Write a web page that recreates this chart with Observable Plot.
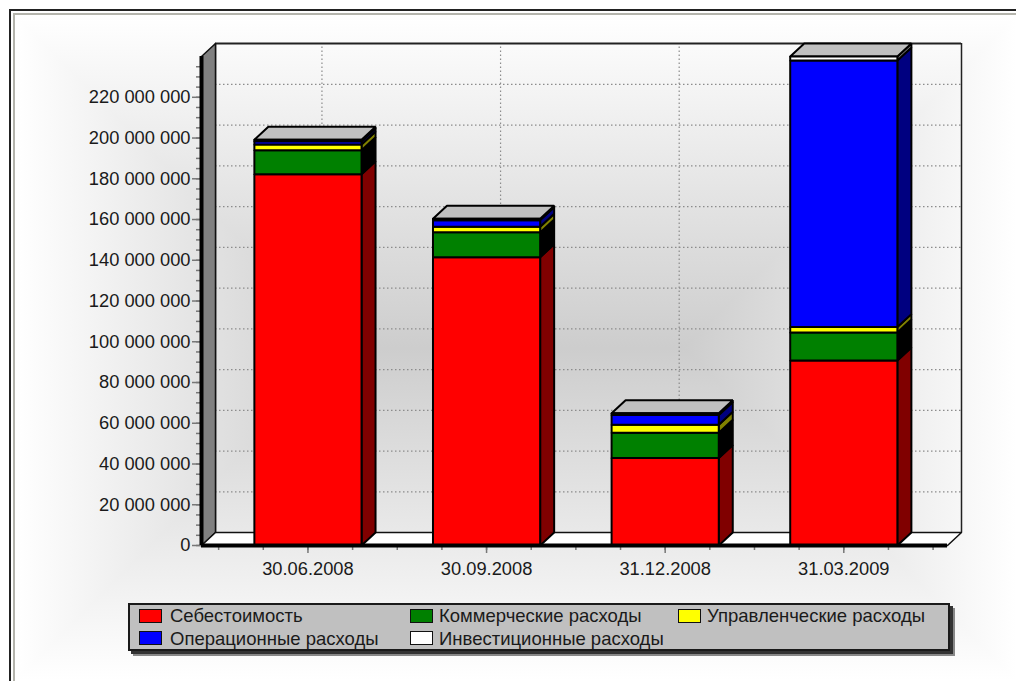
<!DOCTYPE html>
<html><head><meta charset="utf-8">
<script src="https://cdn.jsdelivr.net/npm/d3@7"></script>
<script src="https://cdn.jsdelivr.net/npm/@observablehq/plot@0.6"></script>
<style>
html,body{margin:0;padding:0;background:#fff;overflow:hidden}
#stage{position:relative;width:1016px;height:681px;overflow:hidden;font-family:"Liberation Sans",Arial,sans-serif;color:#111}
#frame{position:absolute;left:9px;top:9px;width:1040px;height:720px;border:2px solid #222;box-sizing:border-box;background:#fff}
#frame2{position:absolute;left:13px;top:13px;width:1040px;height:720px;border:2px solid #b4b4ac;box-sizing:border-box}
#bg{position:absolute;left:0;top:0}
#plot{position:absolute;left:0;top:0}
#legend{position:absolute;left:128px;top:603px;width:822px;height:48px;box-sizing:border-box;background:#c0c0c0;border:2px solid #1a1a1a;box-shadow:3px 3px 0 #333,5px 5px 0 #888}
.item{position:absolute;font-size:18.5px;line-height:20px;white-space:nowrap;color:#1a1a1a}
.sw{position:absolute;width:23px;height:14px;box-sizing:border-box;border:1.5px solid #111}
</style></head><body>
<div id="stage">
<div id="frame"></div>
<svg id="bg" width="1016" height="681"></svg>
<div id="frame2"></div>
<div id="plot"></div>
<div id="legend"></div>
</div>
<script>
const dates = ["30.06.2008","30.09.2008","31.12.2008","31.03.2009"];
const names = ["Себестоимость","Коммерческие расходы","Управленческие расходы","Операционные расходы","Инвестиционные расходы"];
const costOfSales = [182.2,141.5,43.0,90.8];
const commercial  = [11.8,12.2,12.3,13.8];
const management  = [2.8,2.8,4.0,2.6];
const operating   = [1.6,3.2,4.8,130.9];
const investment  = [0.8,0.7,0.8,1.9];
const series = [costOfSales,commercial,management,operating,investment];
const faceColors = ["#ff0000","#008000","#ffff00","#0000ff","#ffffff"];
const sideColors = ["#800000","#000000","#808000","#000080","#808080"];
const majorTicks = d3.range(0,221,20);
const minorTicks = d3.range(0,236,5);
const quarterTicks = d3.range(-0.5,3.51,0.25);
const gridY = d3.range(20,221,20);
const halfBar = 0.3, depthX = 14/178.6, depthY = 6.37, topWall = 240;

const xDom=[-0.596,3.659], yDom=[0,246.4];
const walls=[], bars=[];
const poly=(arr,id,fill,pts)=>pts.concat([pts[0]]).forEach(([x,y])=>arr.push({id,fill,x,y}));
const [x0,x1]=[xDom[0],xDom[0]+depthX];
poly(walls,"left","#808080",[[x0,0],[x1,depthY],[x1,topWall+depthY],[x0,topWall]]);
poly(walls,"floor","#ffffff",[[x0,0],[x1,depthY],[xDom[1],depthY],[xDom[1]-depthX,0]]);
dates.forEach((d,i)=>{
  const L=i-halfBar,R=i+halfBar; let b=0;
  series.forEach((s,k)=>{
    const t=b+s[i];
    poly(bars,`s${i}-${k}`,sideColors[k],[[R,b],[R+depthX,b+depthY],[R+depthX,t+depthY],[R,t]]);
    b=t;
  });
  poly(bars,`t${i}`,"#c0c0c0",[[L,b],[R,b],[R+depthX,b+depthY],[L+depthX,b+depthY]]);
  b=0;
  series.forEach((s,k)=>{
    const t=b+s[i];
    poly(bars,`f${i}-${k}`,faceColors[k],[[L,b],[R,b],[R,t],[L,t]]);
    b=t;
  });
});
const fmt=v=>d3.format(",")(v*1e6).replace(/,/g," ");
const chart=Plot.plot({
  width:1016,height:681,marginLeft:201,marginRight:55,marginTop:43,marginBottom:136,
  style:{background:"transparent",fontFamily:'"Liberation Sans",Arial,sans-serif',color:"#1a1a1a"},
  x:{domain:xDom,axis:null},y:{domain:yDom,axis:null},
  marks:[
    Plot.ruleY(gridY,{y:d=>d+depthY,x1:x1,x2:xDom[1],stroke:"#8c8c8c",strokeDasharray:"1.5,2.5",strokeWidth:1.2}),
    Plot.ruleX([0,1,2,3],{x:d=>d+depthX,y1:depthY,y2:topWall+depthY,stroke:"#8c8c8c",strokeDasharray:"1.5,2.5",strokeWidth:1.2}),
    Plot.ruleX([x1,xDom[1]],{y1:depthY,y2:topWall+depthY,stroke:"#222",strokeWidth:1.5}),
    Plot.ruleY([topWall+depthY],{x1:x1,x2:xDom[1],stroke:"#222",strokeWidth:2}),
    Plot.line(walls,{x:"x",y:"y",z:"id",fill:"fill",stroke:"#111",strokeWidth:1.5}),
    Plot.line(bars,{x:"x",y:"y",z:"id",fill:"fill",stroke:"#000",strokeWidth:2,strokeLinejoin:"miter"}),
    Plot.axisY({ticks:minorTicks,tickSize:5,tickFormat:()=>"",stroke:"#777",strokeWidth:1.5,label:null}),
    Plot.axisY({ticks:majorTicks,tickSize:9,tickPadding:2,tickFormat:fmt,stroke:"#777",strokeWidth:1.5,fontSize:18.3,label:null}),
    Plot.axisX({ticks:quarterTicks,tickSize:5,tickFormat:()=>"",anchor:"bottom",stroke:"#777",strokeWidth:1.5,label:null}),
    Plot.axisX({ticks:[0,1,2,3],tickSize:8,tickPadding:8,tickFormat:i=>dates[i],anchor:"bottom",stroke:"#777",strokeWidth:1.5,fontSize:18.3,label:null}),
    Plot.ruleX([x0],{y1:0,y2:topWall,stroke:"#000",strokeWidth:4}),
    Plot.ruleY([0],{x1:x0,x2:xDom[1]-depthX,stroke:"#000",strokeWidth:4})
  ]
});
document.getElementById("plot").append(chart);

// rectangular path gradient behind the chart
const svg=d3.select("#bg"), L=16,T=16,R=1016,B=680,CY=(T+B)/2,H=(B-T)/2;
const defs=svg.append("defs");
[["gt",0,0,0,1,[[L,T],[R,T],[R-H,CY],[L+H,CY]]],["gb",0,1,0,0,[[L,B],[R,B],[R-H,CY],[L+H,CY]]],
 ["gl",0,0,1,0,[[L,T],[L,B],[L+H,CY]]],["gr",1,0,0,0,[[R,T],[R,B],[R-H,CY]]]].forEach(([id,a,b,c,e,pts])=>{
  const g=defs.append("linearGradient").attr("id",id).attr("x1",a).attr("y1",b).attr("x2",c).attr("y2",e);
  g.append("stop").attr("offset",0).attr("stop-color","#fff");
  g.append("stop").attr("offset",1).attr("stop-color","#cdcdcd");
  svg.append("polygon").attr("points",pts.map(p=>p.join(",")).join(" ")).attr("fill",`url(#${id})`).attr("shape-rendering","crispEdges");
});

// legend
const legend=document.getElementById("legend");
const cols=[[9,40],[280,309],[548,577]], rows=[4,26];
names.forEach((n,i)=>{
  const c=cols[i%3], row=Math.floor(i/3), r=rows[row];
  const sw=document.createElement("div"); sw.className="sw"; sw.style.cssText=`left:${c[0]}px;top:${r}px;background:${faceColors[i]}`;
  const t=document.createElement("div"); t.className="item"; t.textContent=n; t.style.cssText=`left:${c[1]}px;top:${r-(row?2:3)}px`;
  legend.append(sw,t);
});
</script>
</body></html>
